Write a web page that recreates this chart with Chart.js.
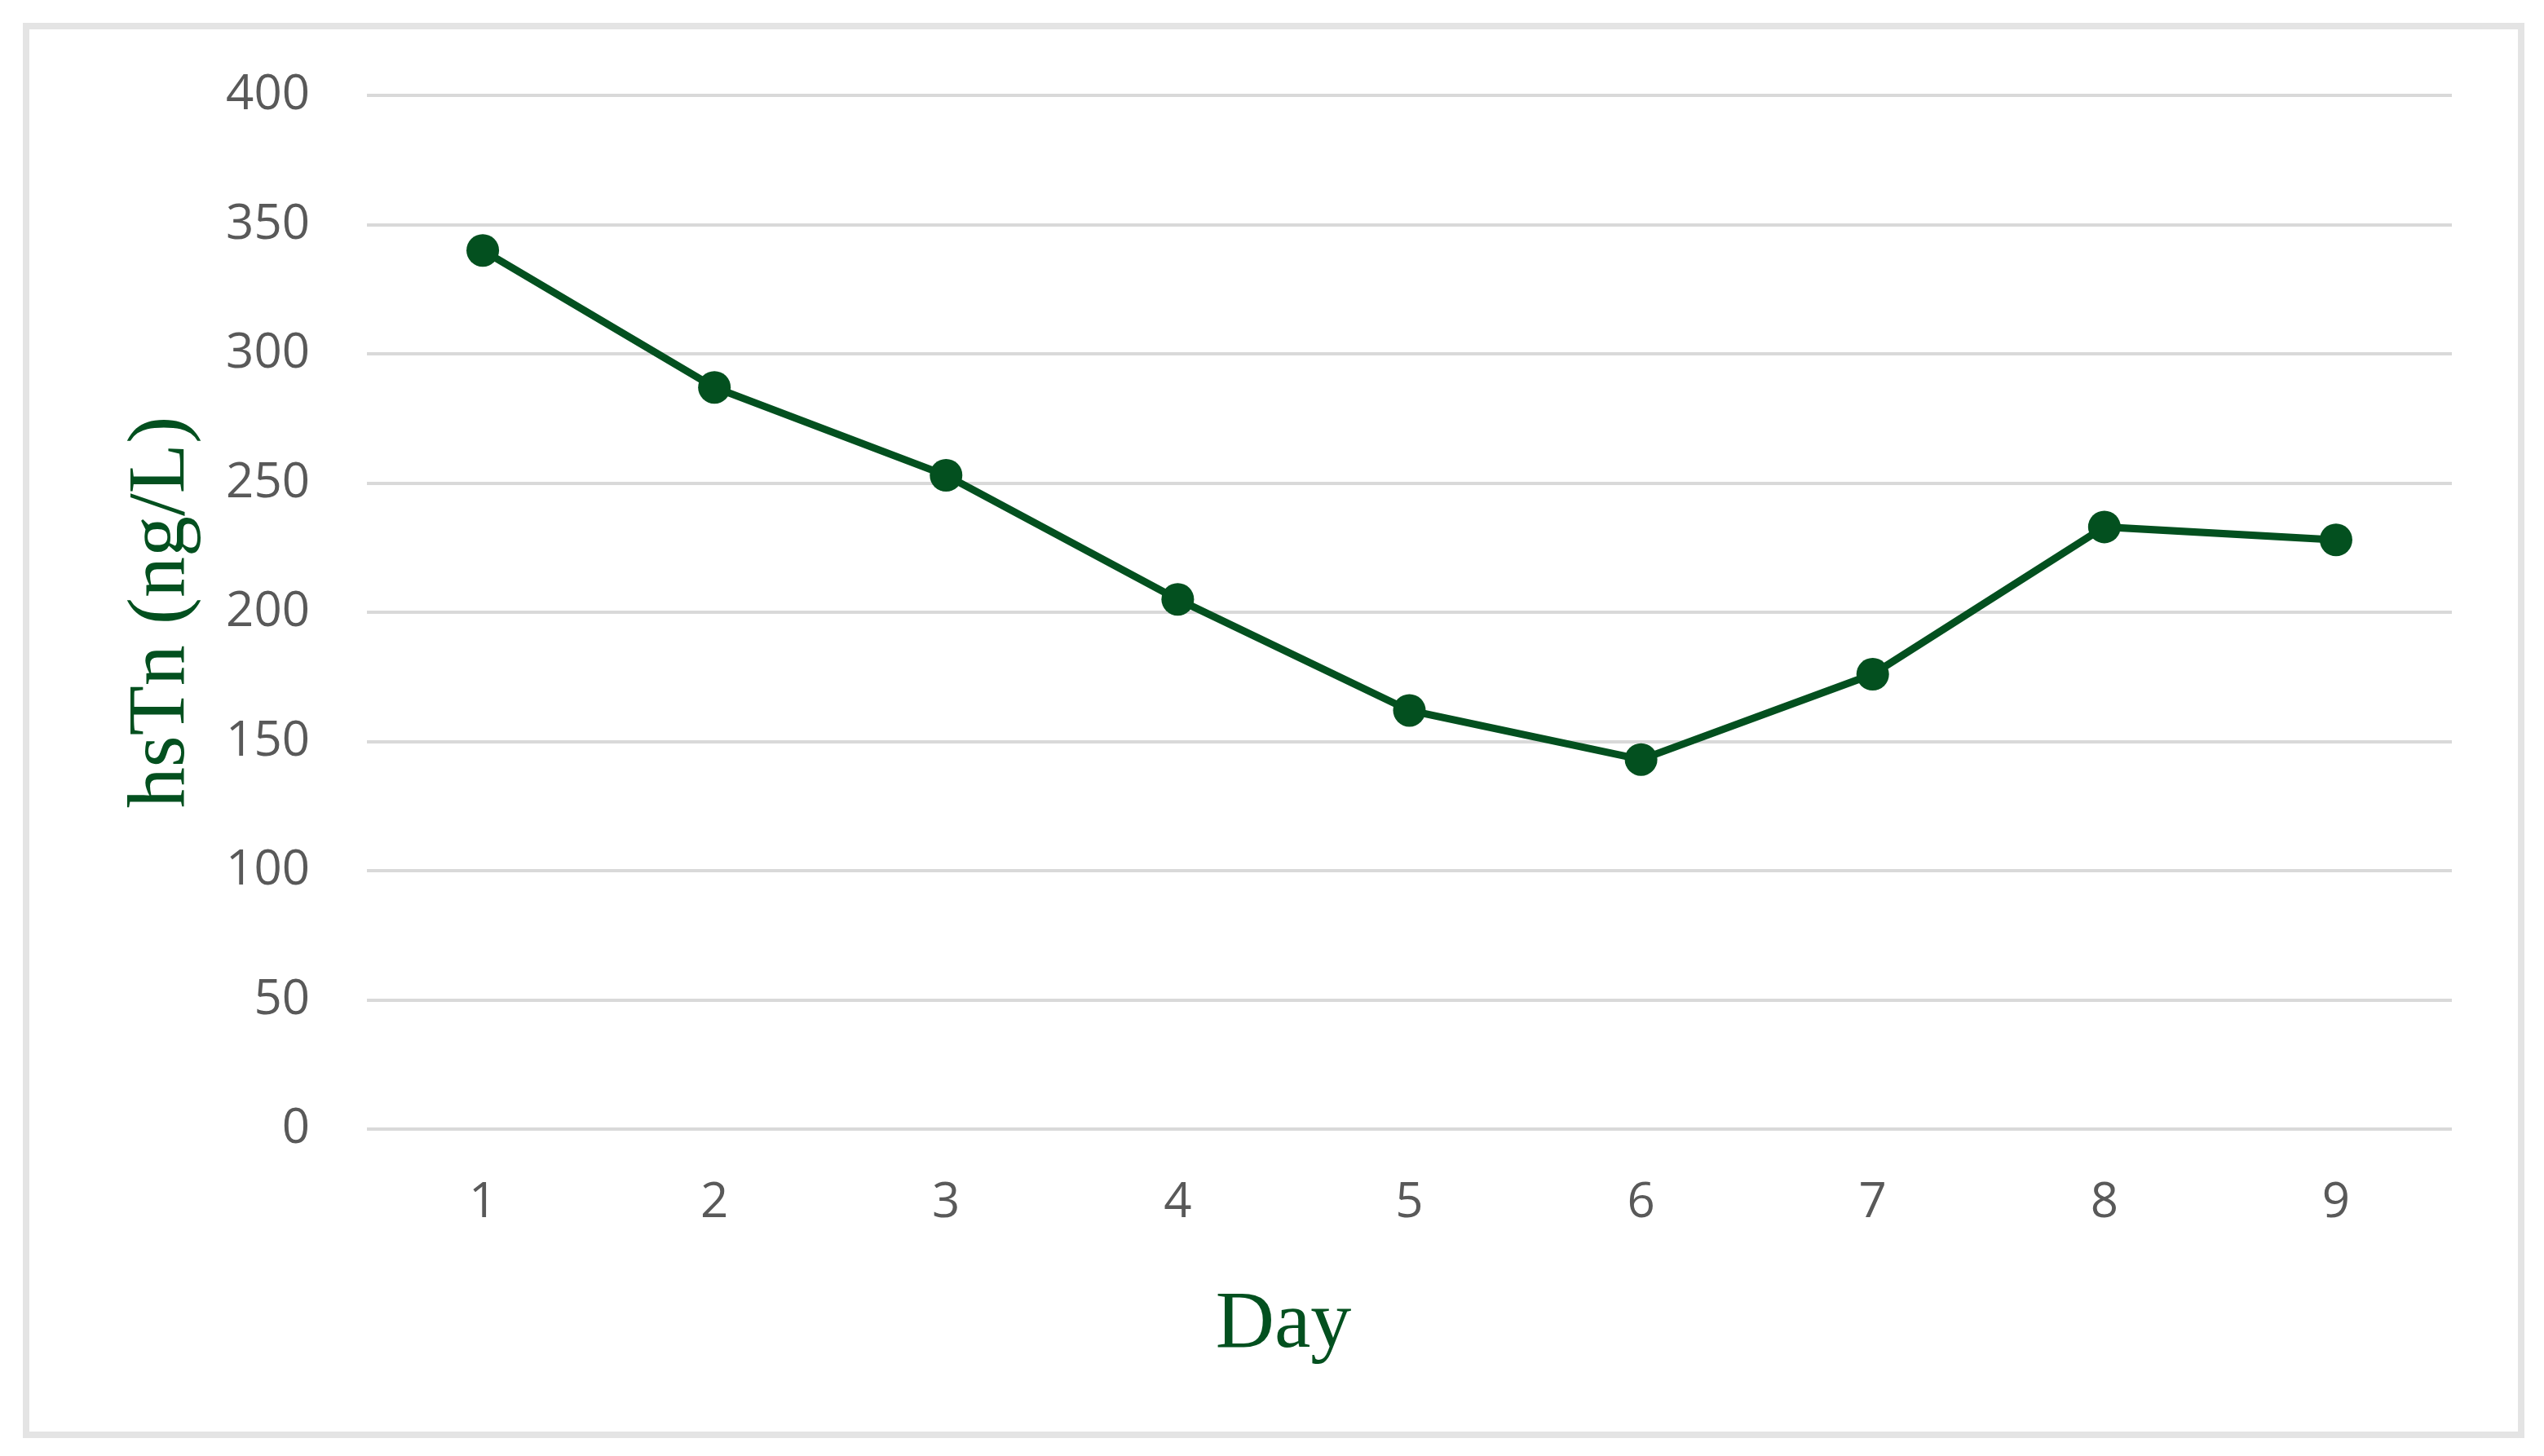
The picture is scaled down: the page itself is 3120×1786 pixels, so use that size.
<!DOCTYPE html>
<html>
<head>
<meta charset="utf-8">
<script src="https://cdn.jsdelivr.net/npm/chart.js@4"></script>
<style>
  html, body { margin: 0; padding: 0; background: #fff; }
  #wrap { position: relative; width: 3120px; height: 1786px; }
  #frame {
    position: absolute; left: 28px; top: 28px; width: 3068px; height: 1736px;
    border: 8px solid #e4e4e4; box-sizing: border-box; pointer-events: none;
  }
  canvas { position: absolute; left: 0; top: 0; }
</style>
</head>
<body>
<div id="wrap">
  <canvas id="lineChart" width="3120" height="1786"></canvas>
  <div id="frame"></div>
</div>
<script>
const days = ['1', '2', '3', '4', '5', '6', '7', '8', '9'];
const hsTn = [340, 287, 253, 205, 162, 143, 176, 233, 228];
const yTicks = [0, 50, 100, 150, 200, 250, 300, 350, 400];
const xTitle = 'Day';
const yTitle = 'hsTn (ng/L)';

const green = '#03501f';
const tickFont = { family: '"Open Sans", sans-serif', size: 60 };
const titleFont = { family: '"Liberation Serif", serif', size: 100, lineHeight: 1 };

// x title sits centred on the framed box, not on the plot area (as in the original)
const xTitlePlugin = {
    id: 'xTitle',
    afterDraw(chart) {
        const c = chart.ctx;
        c.save();
        c.font = titleFont.size + 'px ' + titleFont.family;
        c.fillStyle = green;
        c.textAlign = 'center';
        c.textBaseline = 'middle';
        c.fillText(xTitle, (28 + 28 + 3068) / 2 + 12, 1626);
        c.restore();
    }
};

const ctx = document.getElementById('lineChart').getContext('2d');

const lineChart = new Chart(ctx, {
    type: 'line',
    data: {
        labels: days,
        datasets: [{
            label: 'hsTn',
            data: hsTn,
            borderColor: green,
            backgroundColor: green,
            borderWidth: 9,
            pointRadius: 20,
            pointBackgroundColor: green,
            pointBorderWidth: 0,
            tension: 0,
            fill: false
        }]
    },
    options: {
        responsive: false,
        animation: false,
        layout: {
            padding: { left: 0, right: 113, top: 117, bottom: 111 }
        },
        plugins: {
            legend: { display: false },
            tooltip: { enabled: false }
        },
        scales: {
            x: {
                offset: true,
                grid: { display: false, drawTicks: false },
                border: { display: false },
                ticks: { color: '#595959', font: tickFont, padding: 55 },
                afterFit: scale => { scale.height = 290; }
            },
            y: {
                min: 0,
                max: 400,
                afterBuildTicks: scale => { scale.ticks = yTicks.map(v => ({ value: v })); },
                grid: { color: '#d9d9d9', lineWidth: 4, drawTicks: false },
                border: { display: false },
                ticks: { color: '#595959', font: tickFont, padding: 70 },
                title: {
                    display: true,
                    text: yTitle,
                    color: green,
                    font: titleFont,
                    padding: { top: 149, bottom: 0 }
                },
                afterFit: scale => { scale.width = 450; }
            }
        }
    },
    plugins: [xTitlePlugin]
});
</script>
</body>
</html>
